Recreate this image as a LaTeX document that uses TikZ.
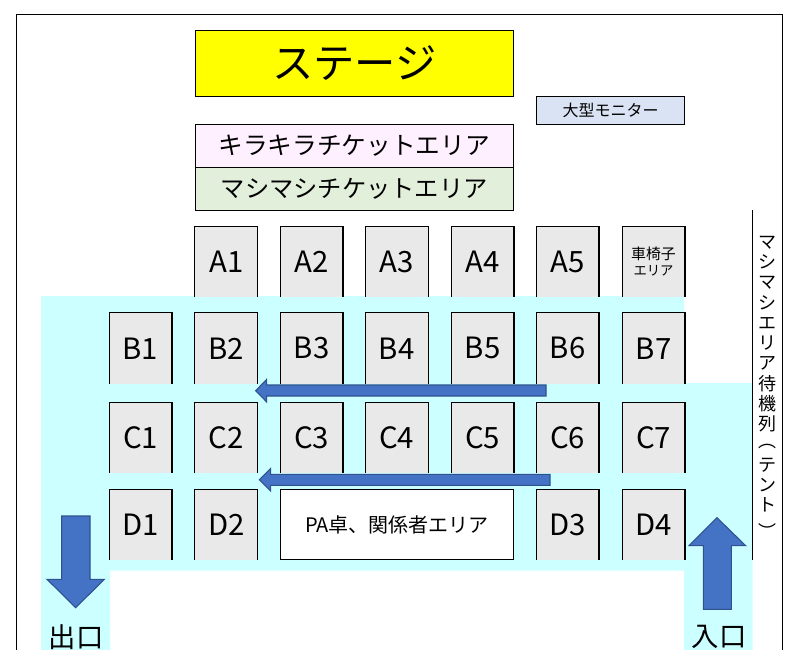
\documentclass[tikz,border=0pt]{standalone}
\usepackage{fontspec}
\setmainfont{Noto Sans CJK JP}
\definecolor{stageyellow}{HTML}{FFFF00}
\definecolor{aisle}{HTML}{CCFFFF}
\definecolor{seatgray}{HTML}{E9E9E9}
\definecolor{kirapink}{HTML}{FFF0FF}
\definecolor{mashigreen}{HTML}{E2EFDA}
\definecolor{monitorblue}{HTML}{DAE3F3}
\definecolor{flowblue}{HTML}{4472C4}
\definecolor{flowedge}{HTML}{2F528F}
\tikzset{
  seat/.style={fill=seatgray,inner sep=0pt,minimum width=46.8pt,minimum height=52.8pt,align=center,font=\fontsize{22}{24}\selectfont},
  seatline/.style={line width=0.8pt},
  area/.style={draw,line width=0.8pt,inner sep=0pt,align=center},
  flow/.style={fill=flowblue,draw=flowedge,line width=0.8pt},
  door/.style={inner sep=0pt,font=\fontsize{20.5}{22}\selectfont}
}
\newcommand{\seatbox}[4]{%
  \node[seat] (#1) at (#2,#3) {#4};
  \draw[seatline] (#1.south west) -- (#1.north west) -- (#1.north east) -- (#1.south east);
}
\begin{document}
\begin{tikzpicture}[x=0.75pt,y=-0.75pt]
  \useasboundingbox (0,0) rectangle (803,664);

  % walkway
  \fill[aisle] (41,296) -- (684,296) -- (684,383) -- (752.7,383) -- (752.7,650) -- (684,650) -- (684,570.7) -- (110,570.7) -- (110,650) -- (41,650) -- cycle;

  % room outline, open at the bottom
  \draw[line width=0.8pt] (16.3,650) -- (16.3,14.3) -- (782.7,14.3) -- (782.7,650);
  \draw[line width=0.8pt] (752.7,210) -- (752.7,559.7);

  \node[area,fill=stageyellow,minimum width=238.7pt,minimum height=49.5pt,font=\fontsize{31}{33}\selectfont] (stage) at (354.3,63.5) {ステージ};
  \node[area,fill=monitorblue,minimum width=111.3pt,minimum height=21pt,font=\fontsize{12}{14}\selectfont] (monitor) at (610.5,110.3) {大型モニター};
  \node[area,fill=kirapink,minimum width=238.7pt,minimum height=32.3pt,font=\fontsize{18.5}{20}\selectfont] (kira) at (354.3,145.8) {キラキラチケットエリア};
  \node[area,fill=mashigreen,minimum width=238.7pt,minimum height=32.3pt,font=\fontsize{18.2}{20}\selectfont] (mashi) at (354.3,188.8) {マシマシチケットエリア};

  \seatbox{a1}{226.4}{261.5}{A1}
  \seatbox{a2}{311.5}{261.5}{A2}
  \seatbox{a3}{396.7}{261.5}{A3}
  \seatbox{a4}{482.5}{261.5}{A4}
  \seatbox{a5}{567.5}{261.5}{A5}
  \seatbox{wheel}{653.5}{261.5}{\fontsize{11.2}{12.7}\selectfont 車椅子\\[-12pt]\fontsize{10}{12.7}\selectfont エリア}

  \seatbox{b1}{140.5}{348.3}{B1}
  \seatbox{b2}{226.4}{348.3}{B2}
  \seatbox{b3}{311.5}{348.3}{B3}
  \seatbox{b4}{396.7}{348.3}{B4}
  \seatbox{b5}{482.5}{348.3}{B5}
  \seatbox{b6}{567.5}{348.3}{B6}
  \seatbox{b7}{653.5}{348.3}{B7}

  \seatbox{c1}{140.5}{437.5}{C1}
  \seatbox{c2}{226.4}{437.5}{C2}
  \seatbox{c3}{311.5}{437.5}{C3}
  \seatbox{c4}{396.7}{437.5}{C4}
  \seatbox{c5}{482.5}{437.5}{C5}
  \seatbox{c6}{567.5}{437.5}{C6}
  \seatbox{c7}{653.5}{437.5}{C7}

  \seatbox{d1}{140.5}{524.5}{D1}
  \seatbox{d2}{226.4}{524.5}{D2}
  \node[area,fill=white,minimum width=175.2pt,minimum height=52.8pt,font=\fontsize{15}{17}\selectfont] (pa) at (397,524.5) {PA卓、関係者エリア};
  \seatbox{d3}{567.5}{524.5}{D3}
  \seatbox{d4}{653.5}{524.5}{D4}

  % direction of the queue
  \draw[flow] (255.7,390.7) -- (266.7,379.3) -- (266.7,385) -- (546,385) -- (546,396) -- (266.7,396) -- (266.7,402) -- cycle;
  \draw[flow] (259.3,479.7) -- (270.7,468.3) -- (270.7,474.3) -- (550,474.3) -- (550,485.3) -- (270.7,485.3) -- (270.7,491) -- cycle;
  \draw[flow] (75.7,607.7) -- (47,579.3) -- (61.7,579.3) -- (61.7,516) -- (90,516) -- (90,579.3) -- (104.3,579.3) -- cycle;
  \draw[flow] (717,517.7) -- (689,545.7) -- (703.3,545.7) -- (703.3,609.3) -- (731.3,609.3) -- (731.3,545.7) -- (745.7,545.7) -- cycle;

  \node[door] (exit) at (76,637) {出口};
  \node[door] (entrance) at (719,637) {入口};
  \node[inner sep=0pt,align=center,font=\fontsize{13.5}{15.2}\selectfont] (queue) at (767,384) {マ\\シ\\マ\\シ\\エ\\リ\\ア\\待\\機\\列\\\raisebox{2.5pt}[0pt][0pt]{︵}\\テ\\ン\\ト\\\raisebox{-5pt}[0pt][0pt]{︶}};

  % everything stops at the lower edge
  \fill[white] (0,650) rectangle (803,664);
\end{tikzpicture}
\end{document}
